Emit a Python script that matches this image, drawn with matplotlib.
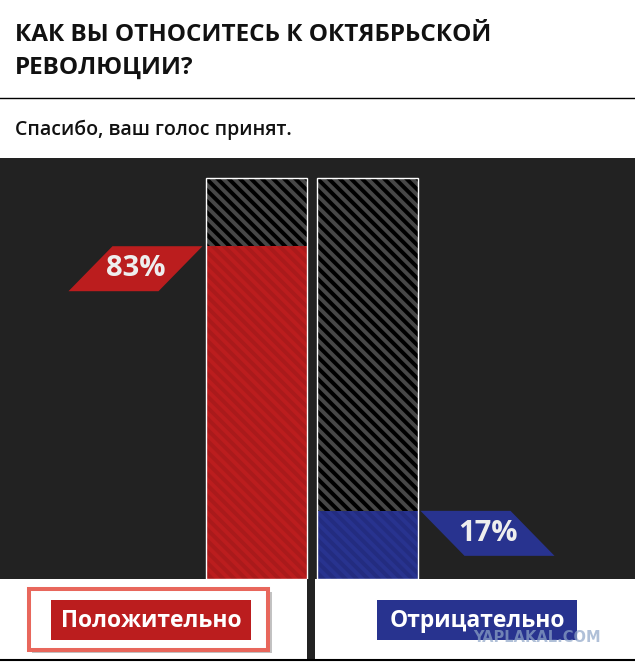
import matplotlib
matplotlib.use("Agg")
import matplotlib.pyplot as plt
from matplotlib.patches import Polygon, Rectangle

# poll data
categories = ["Положительно", "Отрицательно"]
values = [83, 17]
value_labels = ["83%", "17%"]
title_lines = ["КАК ВЫ ОТНОСИТЕСЬ К ОКТЯБРЬСКОЙ", "РЕВОЛЮЦИИ?"]
subtitle = "Спасибо, ваш голос принят."

fill_colors = ["#bb1d1e", "#28338f"]
stripe_colors = ["#aa1a1b", "#232c80"]
panel_color = "#222222"

W, H = 635, 665
plt.rcParams["font.family"] = ["Open Sans", "DejaVu Sans"]
plt.rcParams["hatch.linewidth"] = 2.8

fig = plt.figure(figsize=(W / 100, H / 100), dpi=100)
fig.patch.set_facecolor("white")

# background layer in pixel coordinates (y pointing down)
bg = fig.add_axes([0, 0, 1, 1])
bg.set_xlim(0, W)
bg.set_ylim(H, 0)
bg.axis("off")

bg.text(15, 41, title_lines[0], fontsize=17.5, fontweight="bold", color="#111111", va="baseline")
bg.text(15, 74, title_lines[1], fontsize=17.5, fontweight="bold", color="#111111", va="baseline")
bg.plot([0, W], [98, 98], color="black", lw=1)
bg.text(15, 135, subtitle, fontsize=14, fontweight="semibold", color="#111111", va="baseline")

# bottom strip: divider and bottom rule
bg.add_patch(Rectangle((307, 578), 8, 82, facecolor=panel_color, edgecolor="none"))
bg.plot([0, W], [660, 660], color="black", lw=1.5)

# buttons
bg.add_patch(Rectangle((32, 592), 240, 61, facecolor="#9a9a9a", edgecolor="none", alpha=0.6))
bg.add_patch(Rectangle((29, 589), 239, 61, facecolor="white", edgecolor="#e8675c", lw=2.9))
btn_x = [51, 377]
for i, cat in enumerate(categories):
    bg.add_patch(Rectangle((btn_x[i], 600), 200, 40, facecolor=fill_colors[i], edgecolor="none"))
    bg.text(btn_x[i] + 100, 621, cat, fontsize=16.5, fontweight="bold", color="white",
            ha="center", va="center")

bg.text(537, 637, "YAPLAKAL.COM", fontsize=10.5, fontweight="bold", family="DejaVu Sans",
        color="#8fa6c8", alpha=0.7, ha="center", va="center")

# dark panel with the bars
top_px, bot_px = 158, 579
ax = fig.add_axes([0, (H - bot_px) / H, 1, (bot_px - top_px) / H])
ax.set_facecolor(panel_color)
ppu_y = (bot_px - top_px) / 105.0
ppu_x = 111.0
ax.set_ylim(0, 105)
ax.set_xlim(-256 / ppu_x, (W - 256) / ppu_x)
for s in ax.spines.values():
    s.set_visible(False)
ax.set_xticks([])
ax.set_yticks([])

x = list(range(len(categories)))
bw = 101 / ppu_x
ax.bar(x, [100] * len(x), width=bw, color="black", edgecolor="#474747", hatch="\\\\\\", lw=0)
ax.bar(x, values, width=bw, color=fill_colors, edgecolor=stripe_colors, hatch="\\\\\\", lw=0)
ax.bar(x, [100] * len(x), width=bw, fill=False, edgecolor="white", lw=1, zorder=5)

# slanted value labels
w, sk, gap = 90 / ppu_x, 44 / ppu_x, 3 / ppu_x
h = 45 / ppu_y
for i, v in enumerate(values):
    if i == 0:
        tr = x[i] - bw / 2 - gap
        pts = [(tr - w, v), (tr, v), (tr - sk, v - h), (tr - sk - w, v - h)]
    else:
        tl = x[i] + bw / 2 + gap
        pts = [(tl, v), (tl + w, v), (tl + sk + w, v - h), (tl + sk, v - h)]
    ax.add_patch(Polygon(pts, closed=True, facecolor=fill_colors[i], edgecolor="none"))
    cx = sum(p[0] for p in pts) / 4
    ax.text(cx, v - h / 2, value_labels[i], fontsize=21, fontweight="bold", color="#eeeeee",
            ha="center", va="center")

fig.savefig("out.png", dpi=100, facecolor="white")
